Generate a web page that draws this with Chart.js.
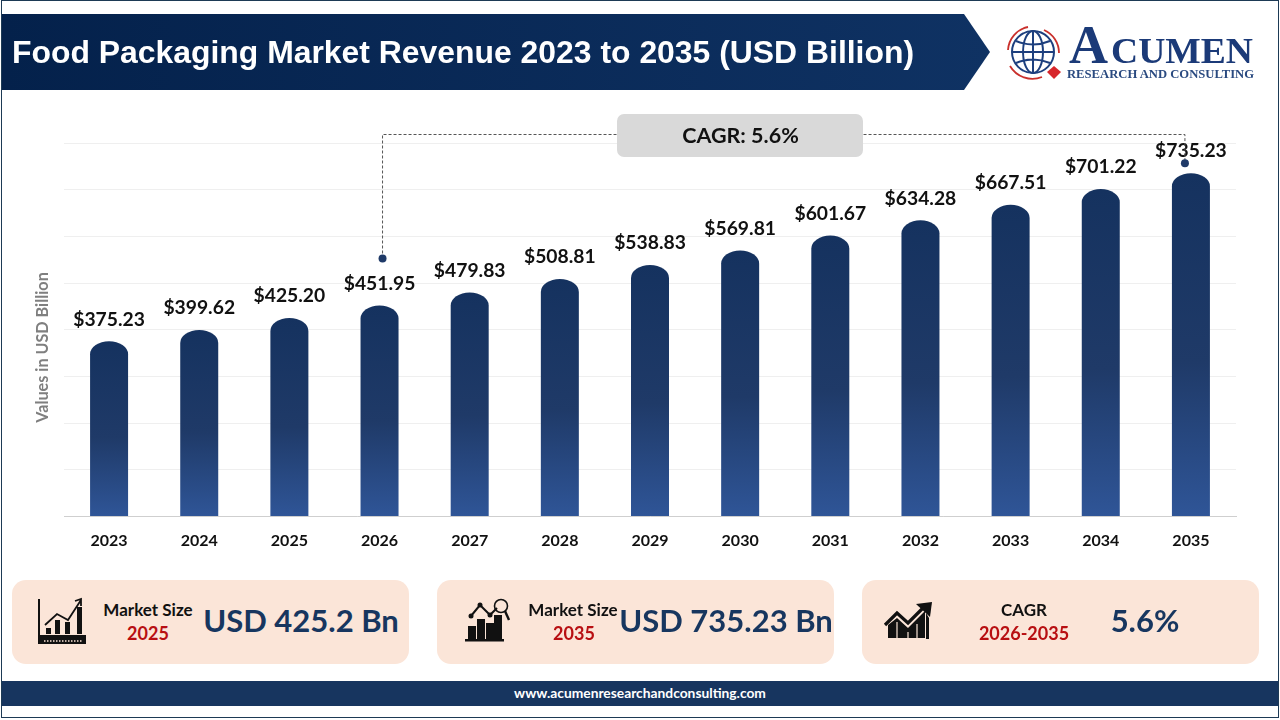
<!DOCTYPE html>
<html>
<head>
<meta charset="utf-8">
<title>Food Packaging Market Revenue</title>
<script src="https://cdn.jsdelivr.net/npm/chart.js@4"></script>
<style>
  html, body { margin: 0; padding: 0; background: #fff; }
  #page { position: relative; width: 1280px; height: 720px; overflow: hidden; background: #fff; font-family: Lato, sans-serif; }
  #page > * { position: absolute; }
  #frame { left: 1px; top: 0; width: 1276px; height: 716px; border: 1px solid #1d3a55; }
  #barChart { left: 0; top: 0; }
  #banner { left: 2px; top: 14px; width: 990px; height: 76px; }
  #title { left: 12px; top: 34px; font: bold 31.9px "Liberation Sans", Arial, sans-serif; color: #fff; white-space: nowrap; }
  #logo { left: 1000px; top: 16px; width: 270px; height: 70px; }
  .card { top: 580px; width: 397px; height: 84px; border-radius: 14px; background: #fbe5d8; }
  .txt { transform: translate(-50%, -50%); white-space: nowrap; font-weight: 700; line-height: 1; }
  .lbl { top: 609px; font-size: 17px; color: #111; }
  .yr { top: 633px; font-size: 18px; color: #b80f12; }
  .big { top: 620px; font-size: 31px; color: #17365f; }
  #footer { left: 2px; top: 681px; width: 1276px; height: 25px; background: #17355f; }
  #url { left: 640px; top: 693px; font-size: 13.8px; color: #fff; }
  .icon { top: 596px; width: 60px; height: 52px; }
</style>
</head>
<body>
<div id="page">
  <canvas id="barChart" width="1280" height="720"></canvas>

  <svg id="banner" viewBox="0 0 990 76">
    <defs>
      <linearGradient id="bannerFill" x1="0" x2="1" y1="0" y2="0">
        <stop offset="0" stop-color="#04214b"/>
        <stop offset="1" stop-color="#0f3263"/>
      </linearGradient>
    </defs>
    <polygon points="0,0 962,0 988,38 962,76 0,76" fill="url(#bannerFill)"/>
  </svg>
  <div id="title">Food Packaging Market Revenue 2023 to 2035 (USD Billion)</div>

  <svg id="logo" viewBox="1000 16 270 70">
    <g fill="none" stroke="#1d3f7e" stroke-width="2">
      <circle cx="1033" cy="52" r="21"/>
      <ellipse cx="1033" cy="52" rx="10" ry="21"/>
      <path d="M1033 31V73M1016 41Q1033 48 1050 41M1012 52H1054M1016 63Q1033 56 1050 63"/>
    </g>
    <g fill="none" stroke="#c9302c" stroke-width="1.8">
      <path d="M1008 50A25 25 0 0 1 1028 27"/>
      <path d="M1044 30A25 25 0 0 1 1059 53"/>
      <path d="M1010 66A26 26 0 0 0 1042 77"/>
    </g>
    <polygon points="1054,66 1061,72 1054,79 1047,72" fill="#d7262b"/>
    <text x="1069" y="63" font-family="Liberation Serif" font-weight="700" font-size="54" fill="#1b3a78">A</text>
    <text x="1111" y="63" font-family="Liberation Serif" font-weight="700" font-size="36" fill="#1b3a78" textLength="142" lengthAdjust="spacingAndGlyphs">CUMEN</text>
    <text x="1067" y="78" font-family="Liberation Serif" font-weight="700" font-size="12.5" fill="#2a4a80" textLength="187" lengthAdjust="spacingAndGlyphs">RESEARCH AND CONSULTING</text>
  </svg>

  <div class="card" style="left:12px"></div>
  <div class="card" style="left:437px"></div>
  <div class="card" style="left:862px"></div>

  <!-- rising bars with an arrow over a ruler -->
  <svg class="icon" style="left:32px" viewBox="32 596 60 52">
    <path d="M39 599V644" stroke="#111" stroke-width="2" fill="none"/>
    <rect x="38" y="635" width="48" height="9" fill="#111"/>
    <path d="M44 641H82" stroke="#fbe5d8" stroke-width="1.4" stroke-dasharray="1.5 1.5"/>
    <rect x="46" y="628" width="5" height="6" fill="#111"/>
    <rect x="55" y="620" width="5" height="14" fill="#111"/>
    <rect x="65" y="622" width="5" height="12" fill="#111"/>
    <rect x="77" y="607" width="5" height="27" fill="#111"/>
    <path d="M45 625L57 614L68 620L81 600M75 601L81 599L81 606" stroke="#111" stroke-width="1.8" fill="none"/>
  </svg>
  <!-- bars under a trend line with a magnifier -->
  <svg class="icon" style="left:460px" viewBox="460 596 60 52">
    <rect x="465" y="639" width="39" height="2.5" fill="#111"/>
    <rect x="468" y="626" width="8" height="14" fill="#111"/>
    <rect x="477" y="619" width="8" height="21" fill="#111"/>
    <rect x="486" y="623" width="8" height="17" fill="#111"/>
    <rect x="494" y="615" width="8" height="25" fill="#111"/>
    <path d="M471 616L480 605L490 615L497 608" stroke="#111" stroke-width="2" fill="none"/>
    <circle cx="471" cy="616" r="2.5" fill="#111"/><circle cx="480" cy="605" r="2.5" fill="#111"/><circle cx="490" cy="615" r="2.5" fill="#111"/>
    <circle cx="501" cy="606" r="6.5" stroke="#111" stroke-width="1.6" fill="none"/>
    <path d="M505 611L509 620" stroke="#111" stroke-width="2.4"/>
  </svg>
  <!-- area trend with a bold arrow -->
  <svg class="icon" style="left:880px" viewBox="880 596 60 52">
    <path d="M888 638V625L897 618L908 628L925 611V638Z M888 639H929V618L926 613V639Z" fill="#111"/>
    <path d="M885 625L897 613L908 623L926 605" stroke="#111" stroke-width="3.2" fill="none"/>
    <polygon points="916,604 932,602 930,617" fill="#111"/>
    <path d="M897 622V639M908 632V639M917 624V639" stroke="#fbe5d8" stroke-width="1.2"/>
  </svg>

  <div class="txt lbl" style="left:148px">Market Size</div>
  <div class="txt yr" style="left:148px">2025</div>
  <div class="txt big" style="left:301px">USD 425.2 Bn</div>

  <div class="txt lbl" style="left:573px">Market Size</div>
  <div class="txt yr" style="left:574px">2035</div>
  <div class="txt big" style="left:726px">USD 735.23 Bn</div>

  <div class="txt lbl" style="left:1024px">CAGR</div>
  <div class="txt yr" style="left:1024px">2026-2035</div>
  <div class="txt big" style="left:1145px">5.6%</div>

  <div id="footer"></div>
  <div id="url" class="txt">www.acumenresearchandconsulting.com</div>
  <div id="frame"></div>
</div>

<script>
const years = ['2023', '2024', '2025', '2026', '2027', '2028', '2029', '2030', '2031', '2032', '2033', '2034', '2035'];
const revenue = [375.23, 399.62, 425.20, 451.95, 479.83, 508.81, 538.83, 569.81, 601.67, 634.28, 667.51, 701.22, 735.23];
const cagrLabel = 'CAGR: 5.6%';
const yTitle = 'Values in USD Billion';

const labelFont = 'Lato, sans-serif';

// bars get an elliptical cap instead of the library's circular corners
Chart.BarElement.prototype.draw = function (ctx) {
  const { x, y, base, width } = this.getProps(['x', 'y', 'base', 'width']);
  const half = width / 2;
  const capH = 13;
  const fill = ctx.createLinearGradient(0, y, 0, base);
  fill.addColorStop(0, '#15325f');
  fill.addColorStop(0.55, '#1f3a68');
  fill.addColorStop(1, '#2f5597');
  ctx.save();
  ctx.fillStyle = fill;
  ctx.beginPath();
  ctx.moveTo(x - half, base);
  ctx.lineTo(x - half, y + capH);
  ctx.ellipse(x, y + capH, half, capH, 0, Math.PI, 2 * Math.PI);
  ctx.lineTo(x + half, base);
  ctx.closePath();
  ctx.fill();
  ctx.restore();
};

const valueLabels = {
  id: 'valueLabels',
  afterDatasetsDraw(chart) {
    const ctx = chart.ctx;
    ctx.save();
    ctx.font = `700 19.3px ${labelFont}`;
    ctx.fillStyle = '#111';
    ctx.textAlign = 'center';
    ctx.textBaseline = 'middle';
    chart.getDatasetMeta(0).data.forEach((bar, i) => {
      ctx.fillText('$' + revenue[i].toFixed(2), bar.x, bar.y - 22);
    });
    ctx.restore();
  }
};

// axis title sits lower than the middle of the plot, so it is placed by hand
const axisTitle = {
  id: 'axisTitle',
  afterDraw(chart) {
    const ctx = chart.ctx;
    ctx.save();
    ctx.translate(43, 347.5);
    ctx.rotate(-Math.PI / 2);
    ctx.font = `700 16.2px ${labelFont}`;
    ctx.fillStyle = '#7f7f7f';
    ctx.textAlign = 'center';
    ctx.textBaseline = 'middle';
    ctx.fillText(yTitle, 0, 0);
    ctx.restore();
  }
};

// dashed bracket from the 2026 bar to the 2035 bar, with the CAGR pill on top
const cagrBracket = {
  id: 'cagrBracket',
  afterDraw(chart) {
    const ctx = chart.ctx;
    const bars = chart.getDatasetMeta(0).data;
    const startX = bars[years.indexOf('2026')].x + 3;
    const startY = bars[years.indexOf('2026')].y - 47;
    const endX = bars[years.indexOf('2035')].x - 6;
    const endY = bars[years.indexOf('2035')].y - 10;
    const topY = 134.5;
    ctx.save();
    ctx.strokeStyle = '#555';
    ctx.lineWidth = 1;
    ctx.setLineDash([3, 2]);
    ctx.beginPath();
    ctx.moveTo(startX, startY);
    ctx.lineTo(startX, topY);
    ctx.lineTo(endX, topY);
    ctx.lineTo(endX, endY);
    ctx.stroke();
    ctx.setLineDash([]);
    ctx.fillStyle = '#1f3a68';
    [[startX, startY], [endX, endY]].forEach(([px, py]) => {
      ctx.beginPath();
      ctx.arc(px, py, 4, 0, 2 * Math.PI);
      ctx.fill();
    });
    ctx.fillStyle = '#d9d9d9';
    ctx.beginPath();
    ctx.roundRect(617, 114, 246, 43, 7);
    ctx.fill();
    ctx.fillStyle = '#111';
    ctx.font = `700 21.5px ${labelFont}`;
    ctx.textAlign = 'center';
    ctx.textBaseline = 'middle';
    ctx.fillText(cagrLabel, 740.5, 136);
    ctx.restore();
  }
};

new Chart(document.getElementById('barChart').getContext('2d'), {
  type: 'bar',
  data: {
    labels: years,
    datasets: [{
      data: revenue,
      backgroundColor: '#1f3a68',
      barThickness: 38
    }]
  },
  options: {
    responsive: false,
    animation: false,
    layout: { padding: { top: 143, right: 44 } },
    plugins: { legend: { display: false }, tooltip: { enabled: false } },
    scales: {
      x: {
        afterFit: s => { s.height = 203.5; },
        grid: { display: false },
        border: { color: '#cfcfcf' },
        ticks: { color: '#111', font: { family: labelFont, size: 16, weight: '700' }, padding: 7, maxRotation: 0 }
      },
      y: {
        min: 0,
        max: 800,
        afterFit: s => { s.width = 64; },
        grid: { color: '#efefef', drawTicks: false },
        border: { display: false },
        ticks: { display: false, stepSize: 100 }
      }
    }
  },
  plugins: [valueLabels, axisTitle, cagrBracket]
});
</script>
</body>
</html>
